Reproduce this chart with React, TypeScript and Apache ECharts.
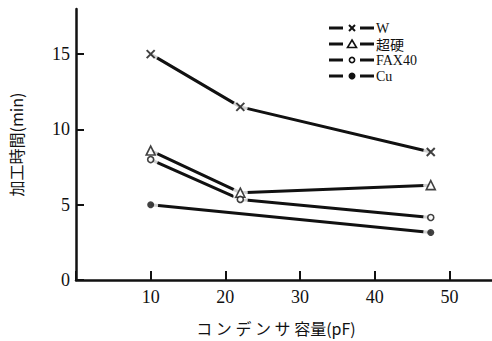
import React, { useEffect, useRef } from "react";
import * as echarts from "echarts";

// Data
const capacitance = [10, 22, 47.5];
const wTime = [15.0, 11.5, 8.5];
const carbideTime = [8.6, 5.8, 6.3];
const fax40Time = [8.0, 5.35, 4.15];
const cuCapacitance = [10, 47.5];
const cuTime = [5.0, 3.15];

const seriesNames = ["W", "超硬", "FAX40", "Cu"];
const xTicks = [10, 20, 30, 40, 50];
const yTicks = [0, 5, 10, 15];

const SERIF = "serif";
const CJK = "Noto Sans CJK JP";
const CROSS = "path://M0,0L10,10M10,0L0,10";

const zip = (xs: number[], ys: number[]) => xs.map((x, i) => [x, ys[i]]);

export default function App() {
  const ref = useRef<HTMLDivElement>(null);
  useEffect(() => {
    if (!ref.current) return;
    const chart = echarts.init(ref.current, undefined, { renderer: "svg" });
    const sets = [
      { name: seriesNames[0], data: zip(capacitance, wTime), symbol: CROSS, size: 8, fill: "none", bw: 2 },
      { name: seriesNames[1], data: zip(capacitance, carbideTime), symbol: "triangle", size: 9, fill: "#fff", bw: 1.6 },
      { name: seriesNames[2], data: zip(capacitance, fax40Time), symbol: "circle", size: 6, fill: "#fff", bw: 1.6 },
      { name: seriesNames[3], data: zip(cuCapacitance, cuTime), symbol: "circle", size: 7, fill: "#111", bw: 0 },
    ];
    const series: any[] = [];
    sets.forEach((s) => {
      series.push({
        type: "line",
        name: s.name,
        data: s.data,
        showSymbol: false,
        lineStyle: { color: "#111", width: 3 },
        z: 2,
      });
    });
    sets.forEach((s) => {
      series.push({
        type: "scatter",
        name: s.name + "-halo",
        data: s.data,
        symbol: "circle",
        symbolSize: 15,
        itemStyle: { color: "#fff" },
        z: 3,
        silent: true,
      });
    });
    sets.forEach((s) => {
      series.push({
        type: "scatter",
        name: s.name + "-mark",
        data: s.data,
        symbol: s.symbol,
        symbolSize: s.size,
        itemStyle: { color: s.fill, borderColor: "#111", borderWidth: s.bw },
        z: 4,
      });
    });

    // legend drawn with graphic elements
    const legendTop = 28;
    const rowGap = 16;
    const legendItems: any[] = [];
    sets.forEach((s, i) => {
      const y = legendTop + i * rowGap;
      legendItems.push(
        { type: "line", shape: { x1: 329, y1: y, x2: 343, y2: y }, style: { stroke: "#111", lineWidth: 3 } },
        { type: "line", shape: { x1: 360, y1: y, x2: 374, y2: y }, style: { stroke: "#111", lineWidth: 3 } },
        { type: "text", x: 376, y: y, style: { text: s.name, fontFamily: i === 1 ? CJK : SERIF, fontSize: 14, fill: "#111", verticalAlign: "middle" } }
      );
      if (i === 0) {
        legendItems.push(
          { type: "line", shape: { x1: 349, y1: y - 3, x2: 355, y2: y + 3 }, style: { stroke: "#111", lineWidth: 2 } },
          { type: "line", shape: { x1: 355, y1: y - 3, x2: 349, y2: y + 3 }, style: { stroke: "#111", lineWidth: 2 } }
        );
      } else if (i === 1) {
        legendItems.push({ type: "polygon", shape: { points: [[352, y - 4], [356.5, y + 3.5], [347.5, y + 3.5]] }, style: { fill: "#fff", stroke: "#111", lineWidth: 1.6 } });
      } else if (i === 2) {
        legendItems.push({ type: "circle", shape: { cx: 352, cy: y, r: 2.6 }, style: { fill: "#fff", stroke: "#111", lineWidth: 1.6 } });
      } else {
        legendItems.push({ type: "circle", shape: { cx: 352, cy: y, r: 3.5 }, style: { fill: "#111" } });
      }
    });

    chart.setOption({
      animation: false,
      backgroundColor: "#fff",
      textStyle: { fontFamily: SERIF },
      grid: { left: 74, right: 0, top: 9, bottom: 58 },
      xAxis: {
        type: "value",
        min: 0,
        max: 55.7,
        interval: 10,
        name: "コ ン デ ン サ 容量(pF)",
        nameLocation: "middle",
        nameGap: 40,
        nameTextStyle: { fontFamily: CJK, fontSize: 16, color: "#111", padding: [0, 16, 0, 0] },
        axisLine: { show: true, lineStyle: { color: "#111", width: 2.5 } },
        axisTick: { show: true, inside: true, length: 9, lineStyle: { color: "#111", width: 2 } },
        axisLabel: {
          fontFamily: SERIF,
          fontSize: 18,
          color: "#111",
          margin: 8,
          showMaxLabel: false,
          formatter: (v: number) => (xTicks.includes(v) ? String(v) : ""),
        },
        splitLine: { show: false },
      },
      yAxis: {
        type: "value",
        min: 0,
        max: 18,
        interval: 5,
        name: "加工時間(min)",
        nameLocation: "middle",
        nameGap: 52,
        nameTextStyle: { fontFamily: CJK, fontSize: 16, color: "#111" },
        axisLine: { show: true, lineStyle: { color: "#111", width: 2.5 } },
        axisTick: { show: true, inside: true, length: 8, lineStyle: { color: "#111", width: 2 } },
        axisLabel: {
          fontFamily: SERIF,
          fontSize: 18,
          color: "#111",
          margin: 6,
          showMaxLabel: false,
          formatter: (v: number) => (yTicks.includes(v) ? String(v) : ""),
        },
        splitLine: { show: false },
      },
      graphic: legendItems,
      series,
    });
    return () => chart.dispose();
  }, []);
  return <div ref={ref} style={{ width: 492, height: 341, position: "absolute", left: 0, top: 0 }} />;
}
